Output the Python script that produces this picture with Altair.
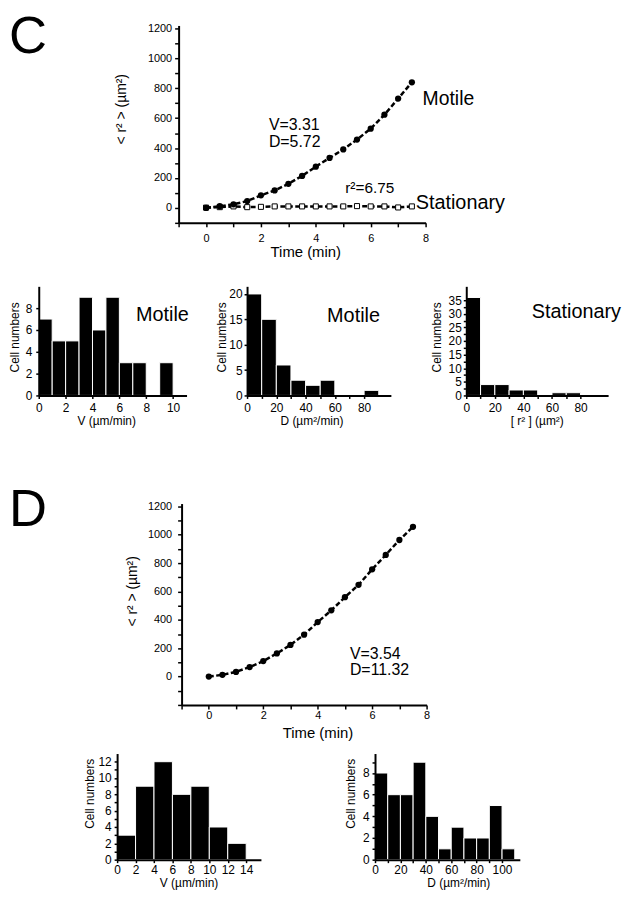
import altair as alt
import pandas as pd

FONT = "Liberation Sans"

# ---------------- data ----------------
time_min = [0, 0.5, 1, 1.5, 2, 2.5, 3, 3.5, 4, 4.5, 5, 5.5, 6, 6.5, 7, 7.5]
c_motile_msd = [0, 11, 24, 46, 84, 117, 161, 214, 276, 334, 391, 457, 530, 623, 731, 840]
c_stationary_msd = [2, 5, 10, 5, 7, 10, 10, 10, 10, 10, 10, 12, 10, 10, 3, 10]
d_motile_msd = [0, 12, 33, 67, 109, 163, 223, 295, 384, 467, 560, 647, 756, 858, 963, 1056]

c_v_edges = [0, 1, 2, 3, 4, 5, 6, 7, 8, 9, 10]
c_v_counts = [7, 5, 5, 9, 6, 9, 3, 3, 0, 3]
c_d_edges = [0, 10, 20, 30, 40, 50, 60, 70, 80, 90]
c_d_counts = [20, 15, 6, 3, 2, 3, 0, 0, 1]
c_r2_edges = [0, 10, 20, 30, 40, 50, 60, 70, 80, 90]
c_r2_counts = [36, 4, 4, 2, 2, 0, 1, 1, 0]
d_v_edges = [0, 2, 4, 6, 8, 10, 12, 14]
d_v_counts = [3, 9, 12, 8, 9, 4, 2]
d_d_edges = [0, 10, 20, 30, 40, 50, 60, 70, 80, 90, 100, 110]
d_d_counts = [8, 6, 6, 9, 4, 1, 3, 2, 2, 5, 1]

time_ticks = [-1, 0, 1, 2, 3, 4, 5, 6, 7, 8]
c_msd_ticks = [-100, 0, 100, 200, 300, 400, 500, 600, 700, 800, 900, 1000, 1100, 1200]
d_msd_ticks = [-200, -100, 0, 100, 200, 300, 400, 500, 600, 700, 800, 900, 1000, 1100, 1200]


# ---------------- helpers ----------------
def ax(**kw):
    base = dict(domainColor="black", domainWidth=2, tickColor="black", tickWidth=1.5,
                labelColor="black", titleColor="black", labelFont=FONT, titleFont=FONT,
                titleFontWeight="normal", grid=False, labelOverlap=False, labelFlush=False,
                zindex=1, format="d")
    base.update(kw)
    return alt.Axis(**base)


def text_layer(txt, x, y, size, align="left", baseline="alphabetic"):
    return alt.Chart(pd.DataFrame({"t": [txt]})).mark_text(
        align=align, baseline=baseline, fontSize=size, font=FONT, color="black"
    ).encode(x=alt.value(x), y=alt.value(y), text="t:N")


def frame(x1, x2, y1, y2):
    # invisible box fixing the extent of a panel cell in the layout
    return alt.Chart(pd.DataFrame({"k": [0]})).mark_rect(opacity=0).encode(
        x=alt.value(x1), x2=alt.value(x2), y=alt.value(y1), y2=alt.value(y2))


def spacer(y1, y2):
    # empty first cell of a row, so every row starts at the same left edge
    return frame(0, 1, y1, y2).properties(width=1, height=1)


def histogram(edges, counts, xdom, ydom, w, h, xvals, xmaj, yvals, ymaj, xtitle,
              xtx, xty, xlp, ytx, yty, ylp, extra):
    df = pd.DataFrame({"lo": edges[:-1], "hi": edges[1:], "n": counts})
    bars = alt.Chart(df).transform_filter("datum.n > 0").mark_rect(
        color="black", stroke="white", strokeWidth=1
    ).encode(
        x=alt.X("lo:Q", scale=alt.Scale(domain=xdom, nice=False, zero=False),
                axis=ax(values=xvals, labelExpr=f"datum.value % {xmaj} == 0 ? datum.label : ''",
                        title=xtitle, titleFontSize=12, labelFontSize=12, tickSize=3,
                        labelPadding=xlp, titleX=xtx, titleY=xty, titleBaseline="top")),
        x2="hi:Q",
        y=alt.Y("n:Q", scale=alt.Scale(domain=ydom, nice=False, zero=False),
                axis=ax(values=yvals, labelExpr=f"datum.value % {ymaj} == 0 ? datum.label : ''",
                        title="Cell numbers", titleFontSize=12, labelFontSize=12, tickSize=3,
                        labelPadding=ylp, titleX=ytx, titleY=yty, titleBaseline="bottom")),
        y2=alt.datum(0),
    )
    return alt.layer(bars, *extra).properties(width=w, height=h)


def msd_layers(df, ydom, yvals, tx_lp, ttx, tty, y_lp, ytx, yty):
    xenc = alt.X("t:Q", scale=alt.Scale(domain=[-1, 8], nice=False, zero=False),
                 axis=ax(values=time_ticks,
                         labelExpr="datum.value >= 0 && datum.value % 2 == 0 ? datum.label : ''",
                         title="Time (min)", titleFontSize=15, labelFontSize=11, tickSize=4,
                         labelPadding=tx_lp, titleX=ttx, titleY=tty, titleBaseline="top"))
    yenc = alt.Y("msd:Q", scale=alt.Scale(domain=ydom, nice=False, zero=False),
                 axis=ax(values=yvals,
                         labelExpr="datum.value >= 0 && datum.value % 200 == 0 ? datum.label : ''",
                         title="< r² > (µm²)", titleFontSize=14, labelFontSize=11, tickSize=4,
                         labelPadding=y_lp, titleX=ytx, titleY=yty, titleBaseline="bottom"))
    base = alt.Chart(df).encode(x=xenc, y=yenc)
    out = []
    groups = list(dict.fromkeys(df["group"]))
    for g in reversed(groups):
        sub = base.transform_filter(f"datum.group == '{g}'")
        out.append(sub.mark_line(color="black", strokeWidth=2.5, strokeDash=[5, 2.5]))
        if g == "Stationary":
            out.append(sub.mark_point(shape="square", filled=True, fill="white", stroke="black",
                                      strokeWidth=1, size=26, opacity=1))
        else:
            out.append(sub.mark_circle(size=40, color="black", opacity=1))
    return out


# ---------------- panel C ----------------
c_df = pd.DataFrame({
    "t": time_min + time_min,
    "msd": c_motile_msd + c_stationary_msd,
    "group": ["Motile"] * len(time_min) + ["Stationary"] * len(time_min),
})
c_main = alt.layer(
    frame(-171, 443, -14, 243),
    *msd_layers(c_df, [-100, 1220], c_msd_ticks, 6, 127.7, 21.5, 3, -51, 84),
    text_layer("C", -171, 28, 53),
    text_layer("V=3.31", 91, 105, 16),
    text_layer("D=5.72", 91, 122.5, 16),
    text_layer("Motile", 246, 80, 19.5),
    text_layer("r²=6.75", 168, 168.7, 15.5),
    text_layer("Stationary", 239, 185, 20),
).properties(width=249, height=199)

h1 = histogram(c_v_edges, c_v_counts, [0, 11], [0, 10], 149, 110,
               [0, 2, 4, 6, 8, 10], 2, [0, 2, 4, 6, 8], 2, "V (µm/min)",
               68, 20, 4, -17, 51, 4,
               [frame(-29, 178, -20, 155), text_layer("Motile", 98, 35, 20)])
h2 = histogram(c_d_edges, c_d_counts, [0, 98.3], [0, 21.5], 145, 110,
               [0, 10, 20, 30, 40, 50, 60, 70, 80], 20, [0, 5, 10, 15, 20], 5, "D (µm²/min)",
               65, 20, 4, -19, 51, 2,
               [frame(-31, 184, -20, 155), text_layer("Motile", 80.7, 35.7, 20)])
h3 = histogram(c_r2_edges, c_r2_counts, [0, 99.3], [0, 40.1], 143, 110,
               [0, 10, 20, 30, 40, 50, 60, 70, 80],
               20, [0, 2.5, 5, 7.5, 10, 12.5, 15, 17.5, 20, 22.5, 25, 27.5, 30, 32.5, 35], 5,
               "[ r² ] (µm²)",
               71, 20, 4, -23, 51, 2,
               [frame(-35, 157, -20, 155), text_layer("Stationary", 66, 31.7, 20)])

# ---------------- panel D ----------------
d_df = pd.DataFrame({"t": time_min, "msd": d_motile_msd, "group": ["Motile"] * len(time_min)})
d_main = alt.layer(
    frame(-174, 440, -63.7, 241.3),
    *msd_layers(d_df, [-200, 1220], d_msd_ticks, 1, 137, 20.5, 6, -42, 88),
    text_layer("D", -174, 23, 53),
    text_layer("V=3.54", 169.7, 156.5, 16),
    text_layer("D=11.32", 169.7, 173.2, 16),
).properties(width=247, height=203)

hd1 = histogram(d_v_edges, d_v_counts, [0, 15.6], [0, 13], 145, 107,
                [0, 2, 4, 6, 8, 10, 12, 14], 2, list(range(0, 13)), 2, "V (µm/min)",
                72, 18, 2, -20.5, 40, 3,
                [frame(-109, 213, -10, 137)])
hd2 = histogram(d_d_edges, d_d_counts, [0, 114], [0, 9.8], 146, 107,
                [0, 10, 20, 30, 40, 50, 60, 70, 80, 90, 100], 20, list(range(0, 10)), 2,
                "D (µm²/min)",
                84, 18, 2, -18, 40, 3,
                [frame(-47, 245, -10, 137)])

chart = alt.vconcat(
    alt.hconcat(spacer(-14, 243), c_main, spacing=0),
    alt.hconcat(spacer(-20, 155), h1, h2, h3, spacing=0),
    alt.hconcat(spacer(-63.7, 241.3), d_main, spacing=0),
    alt.hconcat(spacer(-10, 137), hd1, hd2, spacing=0),
    spacing=0,
    padding=0,
).configure(font=FONT).configure_view(strokeWidth=0)

chart.save("out.html", embed_options={"renderer": "svg", "actions": False})
